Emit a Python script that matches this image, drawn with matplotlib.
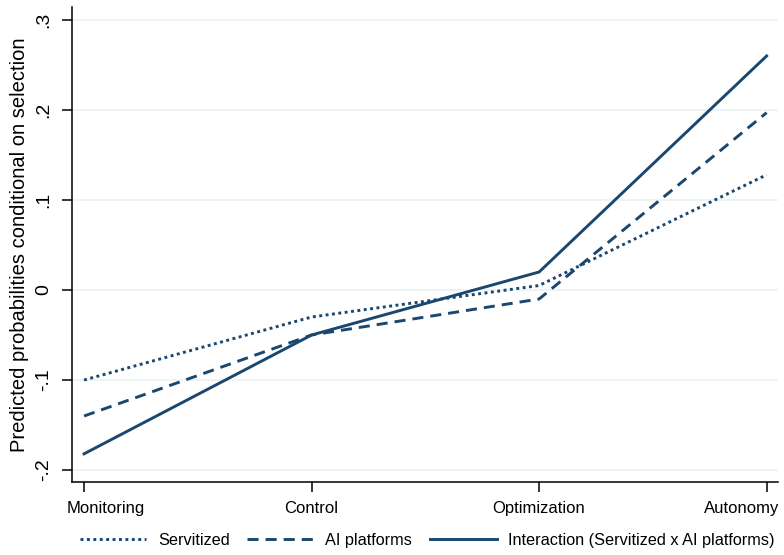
import numpy as np
import matplotlib
matplotlib.use("Agg")
import matplotlib.pyplot as plt
import matplotlib.transforms as mtransforms

plt.rcParams['font.family'] = ['Liberation Sans', 'DejaVu Sans']

# Data
stages = ['Monitoring', 'Control', 'Optimization', 'Autonomy']
servitized = [-0.100, -0.030, 0.005, 0.128]
ai_platforms = [-0.140, -0.050, -0.010, 0.197]
interaction = [-0.182, -0.050, 0.020, 0.260]
yticks = [-0.2, -0.1, 0.0, 0.1, 0.2, 0.3]
ytick_labels = ['-.2', '-.1', '0', '.1', '.2', '.3']

navy = '#1a476f'
grid_col = '#eaf2f3'

fig = plt.figure(figsize=(7.84, 5.55), dpi=100)
ax = fig.add_axes([72 / 784, 73 / 555, 706 / 784, 475 / 555])

x = np.arange(len(stages))
ax.plot(x, servitized, color=navy, lw=2.1, linestyle=(0, (1, 1.2)), label='Servitized')
ax.plot(x, ai_platforms, color=navy, lw=2.1, linestyle=(0, (3.8, 2.4)), label='AI platforms')
ax.plot(x, interaction, color=navy, lw=2.1, label='Interaction (Servitized x AI platforms)')

ax.set_xlim(-0.053, 3.05)
ax.set_ylim(-0.2133, 0.3144)

ax.set_yticks(yticks)
ax.set_yticklabels(ytick_labels, rotation=90, va='center')
ax.set_xticks(x)
ax.set_xticklabels(stages)
ax.tick_params(axis='both', direction='out', length=7, width=1.1, colors='black')
ax.tick_params(axis='y', pad=7, labelsize=14)
ax.tick_params(axis='x', pad=7, labelsize=12)

# first and last category labels stay inside the plot region
labels = ax.get_xticklabels()
labels[0].set_ha('left')
labels[0].set_transform(labels[0].get_transform() + mtransforms.ScaledTranslation(-0.17, 0, fig.dpi_scale_trans))
labels[-1].set_ha('right')
labels[-1].set_transform(labels[-1].get_transform() + mtransforms.ScaledTranslation(0.13, 0, fig.dpi_scale_trans))

ax.grid(axis='y', color=grid_col, lw=1.2)
ax.set_axisbelow(True)
for s in ['top', 'right']:
    ax.spines[s].set_visible(False)
for s in ['left', 'bottom']:
    ax.spines[s].set_linewidth(1.1)

ax.set_ylabel('Predicted probabilities conditional on selection', fontsize=14.5, labelpad=5)

fig.legend(loc='center', bbox_to_anchor=(0.545, 0.027), ncol=3, frameon=False, fontsize=11.7,
           handlelength=4.1, handletextpad=0.7, columnspacing=1.1)

fig.savefig('out.png', dpi=100)
